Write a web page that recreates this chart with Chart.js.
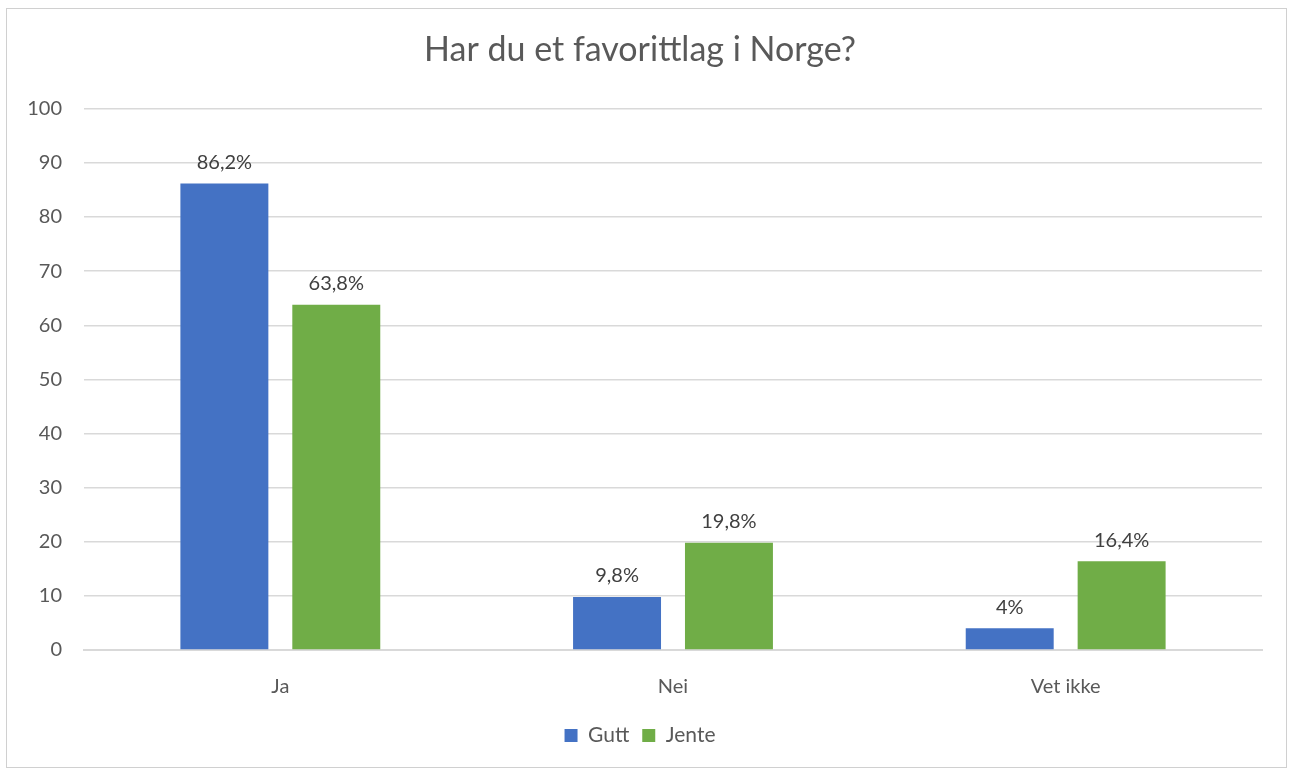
<!DOCTYPE html>
<html>
<head>
<meta charset="utf-8">
<script src="https://cdn.jsdelivr.net/npm/chart.js@4"></script>
<style>
  body { margin: 0; background: #fff; }
  #wrap { width: 1290px; height: 772px; position: relative; }
</style>
</head>
<body>
<div id="wrap"><canvas id="favChart" width="1290" height="772"></canvas></div>
<script>
const categories = ['Ja', 'Nei', 'Vet ikke'];
const gutt = [86.2, 9.8, 4];
const jente = [63.8, 19.8, 16.4];
const gutLabels = ['86,2%', '9,8%', '4%'];
const jenteLabels = ['63,8%', '19,8%', '16,4%'];

const fontFamily = 'Lato, "Open Sans", sans-serif';

// frame round the whole chart
const frame = {
    id: 'frame',
    beforeDraw(chart) {
        const ctx = chart.ctx;
        ctx.save();
        ctx.fillStyle = '#fff';
        ctx.fillRect(0, 0, chart.width, chart.height);
        ctx.strokeStyle = '#d0d0d0';
        ctx.lineWidth = 1;
        ctx.strokeRect(6.5, 8.5, 1280, 759);
        ctx.restore();
    }
};

// value labels above bars
const barLabels = {
    id: 'barLabels',
    afterDatasetsDraw(chart) {
        const ctx = chart.ctx;
        ctx.save();
        ctx.font = '20px ' + fontFamily;
        ctx.fillStyle = '#404040';
        ctx.textAlign = 'center';
        ctx.textBaseline = 'middle';
        chart.data.datasets.forEach((ds, i) => {
            const meta = chart.getDatasetMeta(i);
            meta.data.forEach((bar, j) => {
                ctx.fillText(ds.valueLabels[j], bar.x, bar.y - 21);
            });
        });
        ctx.restore();
    }
};

new Chart(document.getElementById('favChart'), {
    type: 'bar',
    data: {
        labels: categories,
        datasets: [
            { label: 'Gutt', data: gutt, valueLabels: gutLabels, backgroundColor: '#4472C4' },
            { label: 'Jente', data: jente, valueLabels: jenteLabels, backgroundColor: '#70AD47' },
        ],
    },
    options: {
        responsive: false,
        animation: false,
        categoryPercentage: 0.57,
        barPercentage: 0.786,
        layout: { padding: { left: 18, right: 28, top: 18, bottom: 16 } },
        plugins: {
            title: {
                display: true,
                text: 'Har du et favorittlag i Norge?',
                color: '#595959',
                font: { family: fontFamily, size: 34, weight: 'normal' },
                padding: { top: 12, bottom: 38 },
            },
            legend: {
                position: 'bottom',
                labels: {
                    color: '#595959',
                    font: { family: fontFamily, size: 21 },
                    boxWidth: 13,
                    boxHeight: 13,
                    padding: 13,
                },
            },
            tooltip: { enabled: false },
        },
        scales: {
            x: {
                grid: { display: false },
                border: { color: '#d9d9d9', width: 2 },
                ticks: {
                    color: '#595959',
                    font: { family: fontFamily, size: 20 },
                    padding: 17,
                },
                afterFit(scale) { scale.height = 62; },
            },
            y: {
                min: 0,
                max: 100,
                ticks: {
                    stepSize: 10,
                    color: '#595959',
                    font: { family: fontFamily, size: 20 },
                    padding: 22,
                },
                grid: { color: '#d9d9d9', lineWidth: 1.5, drawTicks: false },
                border: { display: false },
                afterFit(scale) { scale.width = 66; },
            },
        },
    },
    plugins: [frame, barLabels],
});
</script>
</body>
</html>
